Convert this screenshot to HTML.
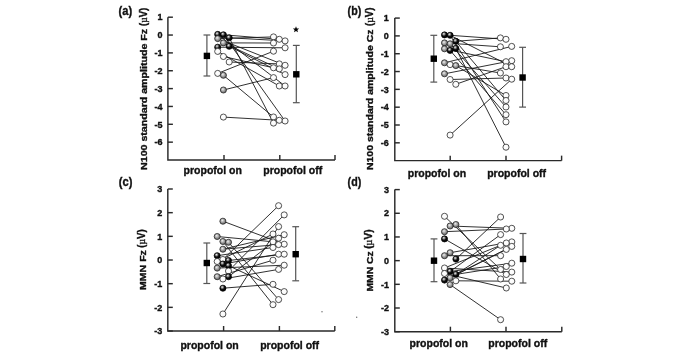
<!DOCTYPE html>
<html><head><meta charset="utf-8"><style>
html,body{margin:0;padding:0;background:#fff;}
svg{display:block;will-change:transform;}
text{font-family:"Liberation Sans", sans-serif;fill:#111;stroke:#111;stroke-width:0.35px;}
</style></head><body>
<svg width="685" height="353" viewBox="0 0 685 353">
<defs>
<radialGradient id="gd" cx="0.4" cy="0.35" r="0.6" fx="0.38" fy="0.32">
<stop offset="0" stop-color="#f4f4f4"/><stop offset="0.25" stop-color="#999"/><stop offset="0.6" stop-color="#111"/><stop offset="1" stop-color="#000"/>
</radialGradient>
<radialGradient id="gg" cx="0.45" cy="0.42" r="0.62" fx="0.4" fy="0.36">
<stop offset="0" stop-color="#f2f2f2"/><stop offset="0.45" stop-color="#a8a8a8"/><stop offset="1" stop-color="#555"/>
</radialGradient>
<radialGradient id="gw" cx="0.45" cy="0.42" r="0.6" fx="0.4" fy="0.36">
<stop offset="0" stop-color="#fff"/><stop offset="0.7" stop-color="#fafafa"/><stop offset="1" stop-color="#d8d8d8"/>
</radialGradient>
</defs>
<rect width="685" height="353" fill="#fff"/>
<path d="M167.9 17.2 V160.0 H335" fill="none" stroke="#2a2a2a" stroke-width="1.45"/>
<line x1="167.9" y1="17.2" x2="172.9" y2="17.2" stroke="#2a2a2a" stroke-width="1.45"/>
<text x="162.5" y="20.4" text-anchor="end" font-size="9" font-weight="bold">1</text>
<line x1="167.9" y1="35.05" x2="172.9" y2="35.05" stroke="#2a2a2a" stroke-width="1.45"/>
<text x="162.5" y="38.25" text-anchor="end" font-size="9" font-weight="bold">0</text>
<line x1="167.9" y1="52.9" x2="172.9" y2="52.9" stroke="#2a2a2a" stroke-width="1.45"/>
<text x="162.5" y="56.1" text-anchor="end" font-size="9" font-weight="bold">-1</text>
<line x1="167.9" y1="70.75" x2="172.9" y2="70.75" stroke="#2a2a2a" stroke-width="1.45"/>
<text x="162.5" y="73.95" text-anchor="end" font-size="9" font-weight="bold">-2</text>
<line x1="167.9" y1="88.6" x2="172.9" y2="88.6" stroke="#2a2a2a" stroke-width="1.45"/>
<text x="162.5" y="91.8" text-anchor="end" font-size="9" font-weight="bold">-3</text>
<line x1="167.9" y1="106.45" x2="172.9" y2="106.45" stroke="#2a2a2a" stroke-width="1.45"/>
<text x="162.5" y="109.65" text-anchor="end" font-size="9" font-weight="bold">-4</text>
<line x1="167.9" y1="124.3" x2="172.9" y2="124.3" stroke="#2a2a2a" stroke-width="1.45"/>
<text x="162.5" y="127.5" text-anchor="end" font-size="9" font-weight="bold">-5</text>
<line x1="167.9" y1="142.15" x2="172.9" y2="142.15" stroke="#2a2a2a" stroke-width="1.45"/>
<text x="162.5" y="145.35" text-anchor="end" font-size="9" font-weight="bold">-6</text>
<line x1="224" y1="160.0" x2="224" y2="155.0" stroke="#2a2a2a" stroke-width="1.45"/>
<line x1="279.8" y1="160.0" x2="279.8" y2="155.0" stroke="#2a2a2a" stroke-width="1.45"/>
<line x1="335" y1="160.0" x2="335" y2="155.0" stroke="#2a2a2a" stroke-width="1.45"/>
<text x="118.6" y="14.8" font-size="12" font-weight="bold" textLength="13.6" lengthAdjust="spacingAndGlyphs">(a)</text>
<text transform="translate(147,169.9) rotate(-90)" font-size="9.6" font-weight="bold" textLength="141.00" lengthAdjust="spacingAndGlyphs">N100 standard amplitude Fz</text>
<text transform="translate(146.5,26.0) rotate(-90)" font-size="10.6" font-weight="bold" textLength="18.20" lengthAdjust="spacingAndGlyphs">(<tspan font-family="Liberation Serif" font-weight="normal">µ</tspan>V)</text>
<text x="183.6" y="174.4" font-size="10.5" font-weight="bold">propofol on</text>
<text x="263.3" y="174.4" font-size="10.5" font-weight="bold">propofol off</text>
<line x1="217.7" y1="38.6" x2="273.5" y2="36.9" stroke="#1a1a1a" stroke-width="0.9"/>
<line x1="229.2" y1="37.8" x2="285.1" y2="40.9" stroke="#1a1a1a" stroke-width="0.9"/>
<line x1="223.4" y1="42.9" x2="273.5" y2="43.0" stroke="#1a1a1a" stroke-width="0.9"/>
<line x1="223.4" y1="34.8" x2="279.3" y2="39.3" stroke="#1a1a1a" stroke-width="0.9"/>
<line x1="217.7" y1="47.2" x2="285.1" y2="47.8" stroke="#1a1a1a" stroke-width="0.9"/>
<line x1="229.2" y1="46.3" x2="285.1" y2="74.6" stroke="#1a1a1a" stroke-width="0.9"/>
<line x1="223.4" y1="56.5" x2="273.5" y2="67.8" stroke="#1a1a1a" stroke-width="0.9"/>
<line x1="229.2" y1="62.0" x2="279.3" y2="63.9" stroke="#1a1a1a" stroke-width="0.9"/>
<line x1="217.7" y1="34.4" x2="285.1" y2="86.0" stroke="#1a1a1a" stroke-width="0.9"/>
<line x1="217.7" y1="38.6" x2="285.1" y2="65.3" stroke="#1a1a1a" stroke-width="0.9"/>
<line x1="223.4" y1="42.9" x2="279.3" y2="68.9" stroke="#1a1a1a" stroke-width="0.9"/>
<line x1="217.7" y1="51.4" x2="279.3" y2="86.0" stroke="#1a1a1a" stroke-width="0.9"/>
<line x1="217.7" y1="73.4" x2="273.5" y2="51.2" stroke="#1a1a1a" stroke-width="0.9"/>
<line x1="223.4" y1="90.0" x2="273.5" y2="77.6" stroke="#1a1a1a" stroke-width="0.9"/>
<line x1="223.4" y1="75.3" x2="273.5" y2="117.0" stroke="#1a1a1a" stroke-width="0.9"/>
<line x1="229.2" y1="37.8" x2="273.5" y2="123.1" stroke="#1a1a1a" stroke-width="0.9"/>
<line x1="223.4" y1="34.8" x2="285.1" y2="121.0" stroke="#1a1a1a" stroke-width="0.9"/>
<line x1="223.4" y1="117.1" x2="279.3" y2="120.3" stroke="#1a1a1a" stroke-width="0.9"/>
<circle cx="217.7" cy="34.4" r="3.05" fill="url(#gd)" stroke="#000" stroke-width="0.75"/>
<circle cx="223.4" cy="34.8" r="3.05" fill="url(#gd)" stroke="#000" stroke-width="0.75"/>
<circle cx="229.2" cy="37.8" r="3.05" fill="url(#gd)" stroke="#000" stroke-width="0.75"/>
<circle cx="217.7" cy="38.6" r="3.05" fill="url(#gg)" stroke="#222" stroke-width="0.75"/>
<circle cx="223.4" cy="42.9" r="3.05" fill="url(#gg)" stroke="#222" stroke-width="0.75"/>
<circle cx="229.2" cy="46.3" r="3.05" fill="url(#gd)" stroke="#000" stroke-width="0.75"/>
<circle cx="217.7" cy="47.2" r="3.05" fill="url(#gd)" stroke="#000" stroke-width="0.75"/>
<circle cx="217.7" cy="51.4" r="3.05" fill="url(#gw)" stroke="#222" stroke-width="0.75"/>
<circle cx="223.4" cy="56.5" r="3.05" fill="url(#gw)" stroke="#222" stroke-width="0.75"/>
<circle cx="229.2" cy="62.0" r="3.05" fill="url(#gw)" stroke="#222" stroke-width="0.75"/>
<circle cx="217.7" cy="73.4" r="3.05" fill="url(#gw)" stroke="#222" stroke-width="0.75"/>
<circle cx="223.4" cy="75.3" r="3.05" fill="url(#gg)" stroke="#222" stroke-width="0.75"/>
<circle cx="223.4" cy="90.0" r="3.05" fill="url(#gg)" stroke="#222" stroke-width="0.75"/>
<circle cx="223.4" cy="117.1" r="3.05" fill="url(#gw)" stroke="#222" stroke-width="0.75"/>
<circle cx="273.5" cy="36.9" r="3.05" fill="url(#gw)" stroke="#222" stroke-width="0.75"/>
<circle cx="279.3" cy="39.3" r="3.05" fill="url(#gw)" stroke="#222" stroke-width="0.75"/>
<circle cx="285.1" cy="40.9" r="3.05" fill="url(#gw)" stroke="#222" stroke-width="0.75"/>
<circle cx="273.5" cy="43.0" r="3.05" fill="url(#gw)" stroke="#222" stroke-width="0.75"/>
<circle cx="285.1" cy="47.8" r="3.05" fill="url(#gw)" stroke="#222" stroke-width="0.75"/>
<circle cx="273.5" cy="51.2" r="3.05" fill="url(#gw)" stroke="#222" stroke-width="0.75"/>
<circle cx="279.3" cy="63.9" r="3.05" fill="url(#gw)" stroke="#222" stroke-width="0.75"/>
<circle cx="285.1" cy="65.3" r="3.05" fill="url(#gw)" stroke="#222" stroke-width="0.75"/>
<circle cx="273.5" cy="67.8" r="3.05" fill="url(#gw)" stroke="#222" stroke-width="0.75"/>
<circle cx="279.3" cy="68.9" r="3.05" fill="url(#gw)" stroke="#222" stroke-width="0.75"/>
<circle cx="285.1" cy="74.6" r="3.05" fill="url(#gw)" stroke="#222" stroke-width="0.75"/>
<circle cx="273.5" cy="77.6" r="3.05" fill="url(#gw)" stroke="#222" stroke-width="0.75"/>
<circle cx="279.3" cy="86.0" r="3.05" fill="url(#gw)" stroke="#222" stroke-width="0.75"/>
<circle cx="285.1" cy="86.0" r="3.05" fill="url(#gw)" stroke="#222" stroke-width="0.75"/>
<circle cx="273.5" cy="117.0" r="3.05" fill="url(#gw)" stroke="#222" stroke-width="0.75"/>
<circle cx="279.3" cy="120.3" r="3.05" fill="url(#gw)" stroke="#222" stroke-width="0.75"/>
<circle cx="285.1" cy="121.0" r="3.05" fill="url(#gw)" stroke="#222" stroke-width="0.75"/>
<circle cx="273.5" cy="123.1" r="3.05" fill="url(#gw)" stroke="#222" stroke-width="0.75"/>
<line x1="206.9" y1="35.0" x2="206.9" y2="76.0" stroke="#555" stroke-width="1.2"/>
<line x1="203.5" y1="35.0" x2="210.3" y2="35.0" stroke="#555" stroke-width="1.2"/>
<line x1="203.5" y1="76.0" x2="210.3" y2="76.0" stroke="#555" stroke-width="1.2"/>
<rect x="203.70000000000002" y="52.699999999999996" width="6.4" height="6.4" fill="#000"/>
<line x1="296.3" y1="45.4" x2="296.3" y2="102.7" stroke="#555" stroke-width="1.2"/>
<line x1="292.90000000000003" y1="45.4" x2="299.7" y2="45.4" stroke="#555" stroke-width="1.2"/>
<line x1="292.90000000000003" y1="102.7" x2="299.7" y2="102.7" stroke="#555" stroke-width="1.2"/>
<rect x="293.1" y="71.1" width="6.4" height="6.4" fill="#000"/>
<polygon points="296.00,26.30 296.85,28.43 299.14,28.58 297.38,30.05 297.94,32.27 296.00,31.05 294.06,32.27 294.62,30.05 292.86,28.58 295.15,28.43" fill="#000"/>
<path d="M394.8 18.08 V160.64 H561.6" fill="none" stroke="#2a2a2a" stroke-width="1.45"/>
<line x1="394.8" y1="18.08" x2="399.8" y2="18.08" stroke="#2a2a2a" stroke-width="1.45"/>
<text x="388.8" y="21.279999999999998" text-anchor="end" font-size="9" font-weight="bold">1</text>
<line x1="394.8" y1="35.9" x2="399.8" y2="35.9" stroke="#2a2a2a" stroke-width="1.45"/>
<text x="388.8" y="39.1" text-anchor="end" font-size="9" font-weight="bold">0</text>
<line x1="394.8" y1="53.72" x2="399.8" y2="53.72" stroke="#2a2a2a" stroke-width="1.45"/>
<text x="388.8" y="56.92" text-anchor="end" font-size="9" font-weight="bold">-1</text>
<line x1="394.8" y1="71.54" x2="399.8" y2="71.54" stroke="#2a2a2a" stroke-width="1.45"/>
<text x="388.8" y="74.74000000000001" text-anchor="end" font-size="9" font-weight="bold">-2</text>
<line x1="394.8" y1="89.36" x2="399.8" y2="89.36" stroke="#2a2a2a" stroke-width="1.45"/>
<text x="388.8" y="92.56" text-anchor="end" font-size="9" font-weight="bold">-3</text>
<line x1="394.8" y1="107.18" x2="399.8" y2="107.18" stroke="#2a2a2a" stroke-width="1.45"/>
<text x="388.8" y="110.38000000000001" text-anchor="end" font-size="9" font-weight="bold">-4</text>
<line x1="394.8" y1="125.0" x2="399.8" y2="125.0" stroke="#2a2a2a" stroke-width="1.45"/>
<text x="388.8" y="128.2" text-anchor="end" font-size="9" font-weight="bold">-5</text>
<line x1="394.8" y1="142.82" x2="399.8" y2="142.82" stroke="#2a2a2a" stroke-width="1.45"/>
<text x="388.8" y="146.01999999999998" text-anchor="end" font-size="9" font-weight="bold">-6</text>
<line x1="450.2" y1="160.64" x2="450.2" y2="155.64" stroke="#2a2a2a" stroke-width="1.45"/>
<line x1="506" y1="160.64" x2="506" y2="155.64" stroke="#2a2a2a" stroke-width="1.45"/>
<line x1="561.6" y1="160.64" x2="561.6" y2="155.64" stroke="#2a2a2a" stroke-width="1.45"/>
<text x="347.6" y="14.8" font-size="12" font-weight="bold" textLength="13.6" lengthAdjust="spacingAndGlyphs">(b)</text>
<text transform="translate(373.4,170.1) rotate(-90)" font-size="9.6" font-weight="bold" textLength="140.60" lengthAdjust="spacingAndGlyphs">N100 standard amplitude Cz</text>
<text transform="translate(372.9,26.0) rotate(-90)" font-size="10.6" font-weight="bold" textLength="18.40" lengthAdjust="spacingAndGlyphs">(<tspan font-family="Liberation Serif" font-weight="normal">µ</tspan>V)</text>
<text x="407.8" y="177.0" font-size="10.5" font-weight="bold">propofol on</text>
<text x="487.2" y="177.0" font-size="10.5" font-weight="bold">propofol off</text>
<line x1="444.5" y1="34.9" x2="506.0" y2="39.3" stroke="#1a1a1a" stroke-width="0.9"/>
<line x1="450.1" y1="35.3" x2="506.0" y2="121.9" stroke="#1a1a1a" stroke-width="0.9"/>
<line x1="455.8" y1="41.3" x2="500.4" y2="37.9" stroke="#1a1a1a" stroke-width="0.9"/>
<line x1="444.5" y1="42.9" x2="500.4" y2="46.8" stroke="#1a1a1a" stroke-width="0.9"/>
<line x1="450.1" y1="43.8" x2="506.0" y2="107.0" stroke="#1a1a1a" stroke-width="0.9"/>
<line x1="444.5" y1="48.8" x2="506.0" y2="61.7" stroke="#1a1a1a" stroke-width="0.9"/>
<line x1="450.1" y1="50.4" x2="506.0" y2="114.7" stroke="#1a1a1a" stroke-width="0.9"/>
<line x1="455.8" y1="48.4" x2="506.0" y2="147.2" stroke="#1a1a1a" stroke-width="0.9"/>
<line x1="444.5" y1="62.8" x2="511.7" y2="46.4" stroke="#1a1a1a" stroke-width="0.9"/>
<line x1="450.1" y1="64.6" x2="500.4" y2="73.0" stroke="#1a1a1a" stroke-width="0.9"/>
<line x1="455.8" y1="65.6" x2="506.0" y2="95.5" stroke="#1a1a1a" stroke-width="0.9"/>
<line x1="444.5" y1="73.8" x2="511.7" y2="60.7" stroke="#1a1a1a" stroke-width="0.9"/>
<line x1="450.1" y1="79.5" x2="506.0" y2="78.0" stroke="#1a1a1a" stroke-width="0.9"/>
<line x1="455.8" y1="84.3" x2="506.0" y2="66.7" stroke="#1a1a1a" stroke-width="0.9"/>
<line x1="450.1" y1="135.1" x2="511.7" y2="79.2" stroke="#1a1a1a" stroke-width="0.9"/>
<line x1="450.1" y1="35.3" x2="511.7" y2="66.7" stroke="#1a1a1a" stroke-width="0.9"/>
<line x1="455.8" y1="41.3" x2="506.0" y2="100.5" stroke="#1a1a1a" stroke-width="0.9"/>
<circle cx="444.5" cy="34.9" r="3.05" fill="url(#gd)" stroke="#000" stroke-width="0.75"/>
<circle cx="450.1" cy="35.3" r="3.05" fill="url(#gd)" stroke="#000" stroke-width="0.75"/>
<circle cx="455.8" cy="41.3" r="3.05" fill="url(#gd)" stroke="#000" stroke-width="0.75"/>
<circle cx="444.5" cy="42.9" r="3.05" fill="url(#gg)" stroke="#222" stroke-width="0.75"/>
<circle cx="450.1" cy="43.8" r="3.05" fill="url(#gg)" stroke="#222" stroke-width="0.75"/>
<circle cx="455.8" cy="48.4" r="3.05" fill="url(#gd)" stroke="#000" stroke-width="0.75"/>
<circle cx="444.5" cy="48.8" r="3.05" fill="url(#gg)" stroke="#222" stroke-width="0.75"/>
<circle cx="450.1" cy="50.4" r="3.05" fill="url(#gd)" stroke="#000" stroke-width="0.75"/>
<circle cx="444.5" cy="62.8" r="3.05" fill="url(#gg)" stroke="#222" stroke-width="0.75"/>
<circle cx="450.1" cy="64.6" r="3.05" fill="url(#gw)" stroke="#222" stroke-width="0.75"/>
<circle cx="455.8" cy="65.6" r="3.05" fill="url(#gg)" stroke="#222" stroke-width="0.75"/>
<circle cx="444.5" cy="73.8" r="3.05" fill="url(#gg)" stroke="#222" stroke-width="0.75"/>
<circle cx="450.1" cy="79.5" r="3.05" fill="url(#gw)" stroke="#222" stroke-width="0.75"/>
<circle cx="455.8" cy="84.3" r="3.05" fill="url(#gw)" stroke="#222" stroke-width="0.75"/>
<circle cx="450.1" cy="135.1" r="3.05" fill="url(#gw)" stroke="#222" stroke-width="0.75"/>
<circle cx="500.4" cy="37.9" r="3.05" fill="url(#gw)" stroke="#222" stroke-width="0.75"/>
<circle cx="506.0" cy="39.3" r="3.05" fill="url(#gw)" stroke="#222" stroke-width="0.75"/>
<circle cx="511.7" cy="46.4" r="3.05" fill="url(#gw)" stroke="#222" stroke-width="0.75"/>
<circle cx="500.4" cy="46.8" r="3.05" fill="url(#gw)" stroke="#222" stroke-width="0.75"/>
<circle cx="511.7" cy="60.7" r="3.05" fill="url(#gw)" stroke="#222" stroke-width="0.75"/>
<circle cx="506.0" cy="61.7" r="3.05" fill="url(#gw)" stroke="#222" stroke-width="0.75"/>
<circle cx="506.0" cy="66.7" r="3.05" fill="url(#gw)" stroke="#222" stroke-width="0.75"/>
<circle cx="511.7" cy="66.7" r="3.05" fill="url(#gw)" stroke="#222" stroke-width="0.75"/>
<circle cx="500.4" cy="73.0" r="3.05" fill="url(#gw)" stroke="#222" stroke-width="0.75"/>
<circle cx="506.0" cy="78.0" r="3.05" fill="url(#gw)" stroke="#222" stroke-width="0.75"/>
<circle cx="511.7" cy="79.2" r="3.05" fill="url(#gw)" stroke="#222" stroke-width="0.75"/>
<circle cx="506.0" cy="95.5" r="3.05" fill="url(#gw)" stroke="#222" stroke-width="0.75"/>
<circle cx="506.0" cy="100.5" r="3.05" fill="url(#gw)" stroke="#222" stroke-width="0.75"/>
<circle cx="506.0" cy="107.0" r="3.05" fill="url(#gw)" stroke="#222" stroke-width="0.75"/>
<circle cx="506.0" cy="114.7" r="3.05" fill="url(#gw)" stroke="#222" stroke-width="0.75"/>
<circle cx="506.0" cy="121.9" r="3.05" fill="url(#gw)" stroke="#222" stroke-width="0.75"/>
<circle cx="506.0" cy="147.2" r="3.05" fill="url(#gw)" stroke="#222" stroke-width="0.75"/>
<line x1="433.8" y1="35.3" x2="433.8" y2="82.1" stroke="#555" stroke-width="1.2"/>
<line x1="430.40000000000003" y1="35.3" x2="437.2" y2="35.3" stroke="#555" stroke-width="1.2"/>
<line x1="430.40000000000003" y1="82.1" x2="437.2" y2="82.1" stroke="#555" stroke-width="1.2"/>
<rect x="430.6" y="55.5" width="6.4" height="6.4" fill="#000"/>
<line x1="522.6" y1="47.3" x2="522.6" y2="107.1" stroke="#555" stroke-width="1.2"/>
<line x1="519.2" y1="47.3" x2="526.0" y2="47.3" stroke="#555" stroke-width="1.2"/>
<line x1="519.2" y1="107.1" x2="526.0" y2="107.1" stroke="#555" stroke-width="1.2"/>
<rect x="519.4" y="74.3" width="6.4" height="6.4" fill="#000"/>
<path d="M167.8 189.0 V331.0 H334.8" fill="none" stroke="#2a2a2a" stroke-width="1.45"/>
<line x1="167.8" y1="189.0" x2="172.8" y2="189.0" stroke="#2a2a2a" stroke-width="1.45"/>
<text x="162.2" y="192.2" text-anchor="end" font-size="9" font-weight="bold">3</text>
<line x1="167.8" y1="212.67" x2="172.8" y2="212.67" stroke="#2a2a2a" stroke-width="1.45"/>
<text x="162.2" y="215.86999999999998" text-anchor="end" font-size="9" font-weight="bold">2</text>
<line x1="167.8" y1="236.34" x2="172.8" y2="236.34" stroke="#2a2a2a" stroke-width="1.45"/>
<text x="162.2" y="239.54" text-anchor="end" font-size="9" font-weight="bold">1</text>
<line x1="167.8" y1="260.01" x2="172.8" y2="260.01" stroke="#2a2a2a" stroke-width="1.45"/>
<text x="162.2" y="263.21" text-anchor="end" font-size="9" font-weight="bold">0</text>
<line x1="167.8" y1="283.68" x2="172.8" y2="283.68" stroke="#2a2a2a" stroke-width="1.45"/>
<text x="162.2" y="286.88" text-anchor="end" font-size="9" font-weight="bold">-1</text>
<line x1="167.8" y1="307.35" x2="172.8" y2="307.35" stroke="#2a2a2a" stroke-width="1.45"/>
<text x="162.2" y="310.55" text-anchor="end" font-size="9" font-weight="bold">-2</text>
<line x1="167.8" y1="331.02" x2="172.8" y2="331.02" stroke="#2a2a2a" stroke-width="1.45"/>
<text x="162.2" y="334.21999999999997" text-anchor="end" font-size="9" font-weight="bold">-3</text>
<line x1="223.6" y1="331.0" x2="223.6" y2="326.0" stroke="#2a2a2a" stroke-width="1.45"/>
<line x1="279.4" y1="331.0" x2="279.4" y2="326.0" stroke="#2a2a2a" stroke-width="1.45"/>
<line x1="334.8" y1="331.0" x2="334.8" y2="326.0" stroke="#2a2a2a" stroke-width="1.45"/>
<text x="118.8" y="186.3" font-size="12" font-weight="bold" textLength="13.6" lengthAdjust="spacingAndGlyphs">(c)</text>
<text transform="translate(145.6,290.1) rotate(-90)" font-size="9.6" font-weight="bold" textLength="40.00" lengthAdjust="spacingAndGlyphs">MMN Fz</text>
<text transform="translate(145.1,247.8) rotate(-90)" font-size="10.6" font-weight="bold" textLength="18.40" lengthAdjust="spacingAndGlyphs">(<tspan font-family="Liberation Serif" font-weight="normal">µ</tspan>V)</text>
<text x="180.4" y="348.5" font-size="10.5" font-weight="bold">propofol on</text>
<text x="260.2" y="348.5" font-size="10.5" font-weight="bold">propofol off</text>
<line x1="222.9" y1="221.2" x2="284.2" y2="244.2" stroke="#1a1a1a" stroke-width="0.9"/>
<line x1="217.2" y1="236.5" x2="273.0" y2="241.8" stroke="#1a1a1a" stroke-width="0.9"/>
<line x1="228.5" y1="242.3" x2="278.6" y2="299.6" stroke="#1a1a1a" stroke-width="0.9"/>
<line x1="222.9" y1="249.2" x2="284.2" y2="234.7" stroke="#1a1a1a" stroke-width="0.9"/>
<line x1="222.9" y1="249.2" x2="278.6" y2="244.6" stroke="#1a1a1a" stroke-width="0.9"/>
<line x1="222.9" y1="241.5" x2="273.0" y2="304.7" stroke="#1a1a1a" stroke-width="0.9"/>
<line x1="217.2" y1="255.7" x2="273.0" y2="247.5" stroke="#1a1a1a" stroke-width="0.9"/>
<line x1="222.9" y1="259.5" x2="278.6" y2="205.7" stroke="#1a1a1a" stroke-width="0.9"/>
<line x1="217.2" y1="261.5" x2="273.0" y2="234.0" stroke="#1a1a1a" stroke-width="0.9"/>
<line x1="228.5" y1="260.5" x2="284.2" y2="254.2" stroke="#1a1a1a" stroke-width="0.9"/>
<line x1="222.9" y1="264.0" x2="278.6" y2="254.2" stroke="#1a1a1a" stroke-width="0.9"/>
<line x1="228.5" y1="265.7" x2="284.2" y2="291.6" stroke="#1a1a1a" stroke-width="0.9"/>
<line x1="217.2" y1="268.1" x2="284.2" y2="265.2" stroke="#1a1a1a" stroke-width="0.9"/>
<line x1="228.5" y1="271.0" x2="284.2" y2="214.9" stroke="#1a1a1a" stroke-width="0.9"/>
<line x1="217.2" y1="276.7" x2="273.0" y2="260.2" stroke="#1a1a1a" stroke-width="0.9"/>
<line x1="228.5" y1="276.7" x2="278.6" y2="238.2" stroke="#1a1a1a" stroke-width="0.9"/>
<line x1="222.9" y1="279.0" x2="278.6" y2="269.4" stroke="#1a1a1a" stroke-width="0.9"/>
<line x1="222.9" y1="288.2" x2="273.0" y2="284.3" stroke="#1a1a1a" stroke-width="0.9"/>
<line x1="222.9" y1="314.0" x2="278.6" y2="226.6" stroke="#1a1a1a" stroke-width="0.9"/>
<circle cx="222.9" cy="221.2" r="3.05" fill="url(#gg)" stroke="#222" stroke-width="0.75"/>
<circle cx="217.2" cy="236.5" r="3.05" fill="url(#gg)" stroke="#222" stroke-width="0.75"/>
<circle cx="222.9" cy="241.5" r="3.05" fill="url(#gg)" stroke="#222" stroke-width="0.75"/>
<circle cx="228.5" cy="242.3" r="3.05" fill="url(#gg)" stroke="#222" stroke-width="0.75"/>
<circle cx="222.9" cy="249.2" r="3.05" fill="url(#gg)" stroke="#222" stroke-width="0.75"/>
<circle cx="217.2" cy="255.7" r="3.05" fill="url(#gd)" stroke="#000" stroke-width="0.75"/>
<circle cx="222.9" cy="259.5" r="3.05" fill="url(#gw)" stroke="#222" stroke-width="0.75"/>
<circle cx="228.5" cy="260.5" r="3.05" fill="url(#gd)" stroke="#000" stroke-width="0.75"/>
<circle cx="217.2" cy="261.5" r="3.05" fill="url(#gw)" stroke="#222" stroke-width="0.75"/>
<circle cx="222.9" cy="264.0" r="3.05" fill="url(#gd)" stroke="#000" stroke-width="0.75"/>
<circle cx="228.5" cy="265.7" r="3.05" fill="url(#gd)" stroke="#000" stroke-width="0.75"/>
<circle cx="217.2" cy="268.1" r="3.05" fill="url(#gg)" stroke="#222" stroke-width="0.75"/>
<circle cx="228.5" cy="271.0" r="3.05" fill="url(#gw)" stroke="#222" stroke-width="0.75"/>
<circle cx="217.2" cy="276.7" r="3.05" fill="url(#gg)" stroke="#222" stroke-width="0.75"/>
<circle cx="228.5" cy="276.7" r="3.05" fill="url(#gd)" stroke="#000" stroke-width="0.75"/>
<circle cx="222.9" cy="279.0" r="3.05" fill="url(#gw)" stroke="#222" stroke-width="0.75"/>
<circle cx="222.9" cy="288.2" r="3.05" fill="url(#gd)" stroke="#000" stroke-width="0.75"/>
<circle cx="222.9" cy="314.0" r="3.05" fill="url(#gw)" stroke="#222" stroke-width="0.75"/>
<circle cx="278.6" cy="205.7" r="3.05" fill="url(#gw)" stroke="#222" stroke-width="0.75"/>
<circle cx="284.2" cy="214.9" r="3.05" fill="url(#gw)" stroke="#222" stroke-width="0.75"/>
<circle cx="278.6" cy="226.6" r="3.05" fill="url(#gw)" stroke="#222" stroke-width="0.75"/>
<circle cx="273.0" cy="234.0" r="3.05" fill="url(#gw)" stroke="#222" stroke-width="0.75"/>
<circle cx="284.2" cy="234.7" r="3.05" fill="url(#gw)" stroke="#222" stroke-width="0.75"/>
<circle cx="278.6" cy="238.2" r="3.05" fill="url(#gw)" stroke="#222" stroke-width="0.75"/>
<circle cx="273.0" cy="241.8" r="3.05" fill="url(#gw)" stroke="#222" stroke-width="0.75"/>
<circle cx="284.2" cy="244.2" r="3.05" fill="url(#gw)" stroke="#222" stroke-width="0.75"/>
<circle cx="278.6" cy="244.6" r="3.05" fill="url(#gw)" stroke="#222" stroke-width="0.75"/>
<circle cx="273.0" cy="247.5" r="3.05" fill="url(#gw)" stroke="#222" stroke-width="0.75"/>
<circle cx="278.6" cy="254.2" r="3.05" fill="url(#gw)" stroke="#222" stroke-width="0.75"/>
<circle cx="284.2" cy="254.2" r="3.05" fill="url(#gw)" stroke="#222" stroke-width="0.75"/>
<circle cx="273.0" cy="260.2" r="3.05" fill="url(#gw)" stroke="#222" stroke-width="0.75"/>
<circle cx="284.2" cy="265.2" r="3.05" fill="url(#gw)" stroke="#222" stroke-width="0.75"/>
<circle cx="278.6" cy="269.4" r="3.05" fill="url(#gw)" stroke="#222" stroke-width="0.75"/>
<circle cx="273.0" cy="284.3" r="3.05" fill="url(#gw)" stroke="#222" stroke-width="0.75"/>
<circle cx="284.2" cy="291.6" r="3.05" fill="url(#gw)" stroke="#222" stroke-width="0.75"/>
<circle cx="278.6" cy="299.6" r="3.05" fill="url(#gw)" stroke="#222" stroke-width="0.75"/>
<circle cx="273.0" cy="304.7" r="3.05" fill="url(#gw)" stroke="#222" stroke-width="0.75"/>
<line x1="206.8" y1="243.0" x2="206.8" y2="283.5" stroke="#555" stroke-width="1.2"/>
<line x1="203.4" y1="243.0" x2="210.20000000000002" y2="243.0" stroke="#555" stroke-width="1.2"/>
<line x1="203.4" y1="283.5" x2="210.20000000000002" y2="283.5" stroke="#555" stroke-width="1.2"/>
<rect x="203.60000000000002" y="259.8" width="6.4" height="6.4" fill="#000"/>
<line x1="295.7" y1="226.7" x2="295.7" y2="280.8" stroke="#555" stroke-width="1.2"/>
<line x1="292.3" y1="226.7" x2="299.09999999999997" y2="226.7" stroke="#555" stroke-width="1.2"/>
<line x1="292.3" y1="280.8" x2="299.09999999999997" y2="280.8" stroke="#555" stroke-width="1.2"/>
<rect x="292.5" y="251.0" width="6.4" height="6.4" fill="#000"/>
<path d="M394.8 189.6 V331.7 H561.8" fill="none" stroke="#2a2a2a" stroke-width="1.45"/>
<line x1="394.8" y1="189.6" x2="399.8" y2="189.6" stroke="#2a2a2a" stroke-width="1.45"/>
<text x="389" y="192.79999999999998" text-anchor="end" font-size="9" font-weight="bold">3</text>
<line x1="394.8" y1="213.28" x2="399.8" y2="213.28" stroke="#2a2a2a" stroke-width="1.45"/>
<text x="389" y="216.48" text-anchor="end" font-size="9" font-weight="bold">2</text>
<line x1="394.8" y1="236.96" x2="399.8" y2="236.96" stroke="#2a2a2a" stroke-width="1.45"/>
<text x="389" y="240.16" text-anchor="end" font-size="9" font-weight="bold">1</text>
<line x1="394.8" y1="260.64" x2="399.8" y2="260.64" stroke="#2a2a2a" stroke-width="1.45"/>
<text x="389" y="263.84" text-anchor="end" font-size="9" font-weight="bold">0</text>
<line x1="394.8" y1="284.32" x2="399.8" y2="284.32" stroke="#2a2a2a" stroke-width="1.45"/>
<text x="389" y="287.52" text-anchor="end" font-size="9" font-weight="bold">-1</text>
<line x1="394.8" y1="308.0" x2="399.8" y2="308.0" stroke="#2a2a2a" stroke-width="1.45"/>
<text x="389" y="311.2" text-anchor="end" font-size="9" font-weight="bold">-2</text>
<line x1="394.8" y1="331.68" x2="399.8" y2="331.68" stroke="#2a2a2a" stroke-width="1.45"/>
<text x="389" y="334.88" text-anchor="end" font-size="9" font-weight="bold">-3</text>
<line x1="450.4" y1="331.7" x2="450.4" y2="326.7" stroke="#2a2a2a" stroke-width="1.45"/>
<line x1="506" y1="331.7" x2="506" y2="326.7" stroke="#2a2a2a" stroke-width="1.45"/>
<line x1="561.8" y1="331.7" x2="561.8" y2="326.7" stroke="#2a2a2a" stroke-width="1.45"/>
<text x="347.6" y="186.3" font-size="12" font-weight="bold" textLength="13.6" lengthAdjust="spacingAndGlyphs">(d)</text>
<text transform="translate(372.6,291.6) rotate(-90)" font-size="9.6" font-weight="bold" textLength="40.30" lengthAdjust="spacingAndGlyphs">MMN Cz</text>
<text transform="translate(372.1,248.8) rotate(-90)" font-size="10.6" font-weight="bold" textLength="19.50" lengthAdjust="spacingAndGlyphs">(<tspan font-family="Liberation Serif" font-weight="normal">µ</tspan>V)</text>
<text x="409.6" y="347" font-size="10.5" font-weight="bold">propofol on</text>
<text x="488.3" y="347" font-size="10.5" font-weight="bold">propofol off</text>
<line x1="444.5" y1="216.3" x2="500.6" y2="269.5" stroke="#1a1a1a" stroke-width="0.9"/>
<line x1="455.9" y1="224.5" x2="500.6" y2="279.0" stroke="#1a1a1a" stroke-width="0.9"/>
<line x1="450.1" y1="226.0" x2="511.8" y2="228.3" stroke="#1a1a1a" stroke-width="0.9"/>
<line x1="444.5" y1="231.7" x2="506.3" y2="229.0" stroke="#1a1a1a" stroke-width="0.9"/>
<line x1="444.5" y1="238.9" x2="506.3" y2="274.5" stroke="#1a1a1a" stroke-width="0.9"/>
<line x1="455.9" y1="259.1" x2="500.6" y2="217.0" stroke="#1a1a1a" stroke-width="0.9"/>
<line x1="450.1" y1="271.5" x2="500.6" y2="234.6" stroke="#1a1a1a" stroke-width="0.9"/>
<line x1="450.1" y1="284.6" x2="500.6" y2="319.7" stroke="#1a1a1a" stroke-width="0.9"/>
<line x1="444.5" y1="273.5" x2="506.3" y2="288.0" stroke="#1a1a1a" stroke-width="0.9"/>
<line x1="455.9" y1="280.8" x2="511.8" y2="281.2" stroke="#1a1a1a" stroke-width="0.9"/>
<line x1="450.1" y1="252.7" x2="511.8" y2="241.9" stroke="#1a1a1a" stroke-width="0.9"/>
<line x1="444.5" y1="255.7" x2="500.6" y2="255.7" stroke="#1a1a1a" stroke-width="0.9"/>
<line x1="444.5" y1="268.0" x2="506.3" y2="243.0" stroke="#1a1a1a" stroke-width="0.9"/>
<line x1="455.9" y1="274.4" x2="500.6" y2="245.3" stroke="#1a1a1a" stroke-width="0.9"/>
<line x1="450.1" y1="277.8" x2="511.8" y2="246.4" stroke="#1a1a1a" stroke-width="0.9"/>
<line x1="444.5" y1="280.1" x2="506.3" y2="249.4" stroke="#1a1a1a" stroke-width="0.9"/>
<line x1="450.1" y1="271.5" x2="511.8" y2="263.2" stroke="#1a1a1a" stroke-width="0.9"/>
<line x1="455.9" y1="274.4" x2="506.3" y2="266.5" stroke="#1a1a1a" stroke-width="0.9"/>
<line x1="444.5" y1="268.0" x2="511.8" y2="272.1" stroke="#1a1a1a" stroke-width="0.9"/>
<circle cx="444.5" cy="216.3" r="3.05" fill="url(#gw)" stroke="#222" stroke-width="0.75"/>
<circle cx="455.9" cy="224.5" r="3.05" fill="url(#gg)" stroke="#222" stroke-width="0.75"/>
<circle cx="450.1" cy="226.0" r="3.05" fill="url(#gg)" stroke="#222" stroke-width="0.75"/>
<circle cx="444.5" cy="231.7" r="3.05" fill="url(#gg)" stroke="#222" stroke-width="0.75"/>
<circle cx="444.5" cy="238.9" r="3.05" fill="url(#gd)" stroke="#000" stroke-width="0.75"/>
<circle cx="450.1" cy="252.7" r="3.05" fill="url(#gg)" stroke="#222" stroke-width="0.75"/>
<circle cx="444.5" cy="255.7" r="3.05" fill="url(#gg)" stroke="#222" stroke-width="0.75"/>
<circle cx="455.9" cy="259.1" r="3.05" fill="url(#gd)" stroke="#000" stroke-width="0.75"/>
<circle cx="444.5" cy="268.0" r="3.05" fill="url(#gw)" stroke="#222" stroke-width="0.75"/>
<circle cx="450.1" cy="271.5" r="3.05" fill="url(#gd)" stroke="#000" stroke-width="0.75"/>
<circle cx="444.5" cy="273.5" r="3.05" fill="url(#gw)" stroke="#222" stroke-width="0.75"/>
<circle cx="455.9" cy="274.4" r="3.05" fill="url(#gd)" stroke="#000" stroke-width="0.75"/>
<circle cx="450.1" cy="277.8" r="3.05" fill="url(#gg)" stroke="#222" stroke-width="0.75"/>
<circle cx="444.5" cy="280.1" r="3.05" fill="url(#gd)" stroke="#000" stroke-width="0.75"/>
<circle cx="455.9" cy="280.8" r="3.05" fill="url(#gw)" stroke="#222" stroke-width="0.75"/>
<circle cx="450.1" cy="284.6" r="3.05" fill="url(#gg)" stroke="#222" stroke-width="0.75"/>
<circle cx="500.6" cy="217.0" r="3.05" fill="url(#gw)" stroke="#222" stroke-width="0.75"/>
<circle cx="511.8" cy="228.3" r="3.05" fill="url(#gw)" stroke="#222" stroke-width="0.75"/>
<circle cx="506.3" cy="229.0" r="3.05" fill="url(#gw)" stroke="#222" stroke-width="0.75"/>
<circle cx="500.6" cy="234.6" r="3.05" fill="url(#gw)" stroke="#222" stroke-width="0.75"/>
<circle cx="511.8" cy="241.9" r="3.05" fill="url(#gw)" stroke="#222" stroke-width="0.75"/>
<circle cx="506.3" cy="243.0" r="3.05" fill="url(#gw)" stroke="#222" stroke-width="0.75"/>
<circle cx="500.6" cy="245.3" r="3.05" fill="url(#gw)" stroke="#222" stroke-width="0.75"/>
<circle cx="511.8" cy="246.4" r="3.05" fill="url(#gw)" stroke="#222" stroke-width="0.75"/>
<circle cx="506.3" cy="249.4" r="3.05" fill="url(#gw)" stroke="#222" stroke-width="0.75"/>
<circle cx="500.6" cy="255.7" r="3.05" fill="url(#gw)" stroke="#222" stroke-width="0.75"/>
<circle cx="511.8" cy="263.2" r="3.05" fill="url(#gw)" stroke="#222" stroke-width="0.75"/>
<circle cx="506.3" cy="266.5" r="3.05" fill="url(#gw)" stroke="#222" stroke-width="0.75"/>
<circle cx="500.6" cy="269.5" r="3.05" fill="url(#gw)" stroke="#222" stroke-width="0.75"/>
<circle cx="511.8" cy="272.1" r="3.05" fill="url(#gw)" stroke="#222" stroke-width="0.75"/>
<circle cx="506.3" cy="274.5" r="3.05" fill="url(#gw)" stroke="#222" stroke-width="0.75"/>
<circle cx="500.6" cy="279.0" r="3.05" fill="url(#gw)" stroke="#222" stroke-width="0.75"/>
<circle cx="511.8" cy="281.2" r="3.05" fill="url(#gw)" stroke="#222" stroke-width="0.75"/>
<circle cx="506.3" cy="288.0" r="3.05" fill="url(#gw)" stroke="#222" stroke-width="0.75"/>
<circle cx="500.6" cy="319.7" r="3.05" fill="url(#gw)" stroke="#222" stroke-width="0.75"/>
<line x1="434" y1="238.9" x2="434" y2="281.7" stroke="#555" stroke-width="1.2"/>
<line x1="430.6" y1="238.9" x2="437.4" y2="238.9" stroke="#555" stroke-width="1.2"/>
<line x1="430.6" y1="281.7" x2="437.4" y2="281.7" stroke="#555" stroke-width="1.2"/>
<rect x="430.8" y="257.5" width="6.4" height="6.4" fill="#000"/>
<line x1="523" y1="233.5" x2="523" y2="283.0" stroke="#555" stroke-width="1.2"/>
<line x1="519.6" y1="233.5" x2="526.4" y2="233.5" stroke="#555" stroke-width="1.2"/>
<line x1="519.6" y1="283.0" x2="526.4" y2="283.0" stroke="#555" stroke-width="1.2"/>
<rect x="519.8" y="255.8" width="6.4" height="6.4" fill="#000"/>
<circle cx="322" cy="311.7" r="0.7" fill="#666"/>
<circle cx="356.7" cy="317.3" r="0.7" fill="#666"/>
</svg>
</body></html>
